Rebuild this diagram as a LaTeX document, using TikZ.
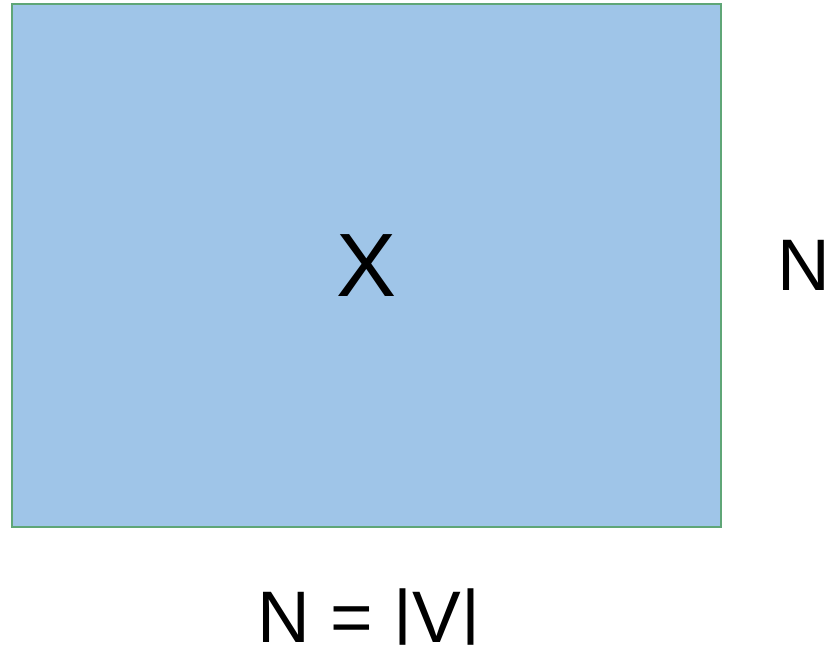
\documentclass[tikz,border=0pt]{standalone}
\usepackage{fontspec}
\setmainfont{Liberation Sans}
\usepackage{xcolor}
\usepackage{graphicx}
\usetikzlibrary{positioning}
\definecolor{featblue}{HTML}{9FC5E8}
\definecolor{featedge}{HTML}{5FA677}
% shorter bar, as in the reference font
\newcommand{\shortbar}{\raisebox{9.5pt}{\scalebox{1}[0.827]{|}}}

\begin{document}
\begin{tikzpicture}[
    x=1pt, y=-1pt,
    big/.style={font=\fontsize{73}{80}\selectfont},
    feat/.style={rectangle, draw=featedge, line width=1.8pt, fill=featblue,
                 minimum width=709pt, minimum height=523pt, inner sep=0pt,
                 font=\fontsize{90}{100}\selectfont},
    lab/.style={anchor=base, inner sep=0pt, big}
]
\useasboundingbox (0,0) rectangle (829,648);
\node[feat] (feat) at (366.5,265.5) {X};
\node[lab] (rows) at (804,290) {N};
\node[lab] (size) at (369,642) {N = \shortbar V\shortbar};
\end{tikzpicture}
\end{document}
